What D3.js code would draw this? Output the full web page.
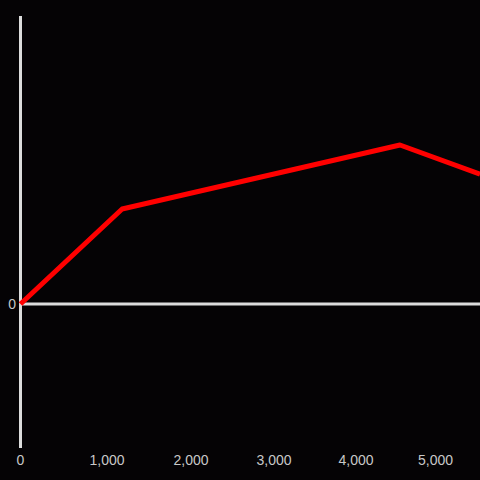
<!DOCTYPE html>
<html><head><meta charset="utf-8">
<script src="https://cdn.jsdelivr.net/npm/d3@7"></script>
<style>html,body{margin:0;padding:0;background:#050305;}svg{display:block;}</style>
</head><body>
<script>
const xTicks = [0, 1000, 2000, 3000, 4000, 5000];
const xTickLabels = ["0", "1,000", "2,000", "3,000", "4,000", "5,000"];
const yTicks = [0];
const yTickLabels = ["0"];
const seriesX = [0, 1180, 4553, 5560];
const seriesY = [0, 33, 55.2, 45.1];

const W = 480, H = 480;
const svg = d3.select("body").append("svg").attr("width", W).attr("height", H)
  .style("background", "#050305");

const x = d3.scaleLinear().domain(xTicks).range([20.5, 107, 191, 274, 356, 435.5]);
const y = d3.scaleLinear().domain([-50, 100]).range([448, 16]);

const axisColor = "#dcdcdc";
const textColor = "#c8c8c8";
const font = "'Liberation Sans', Arial, sans-serif";

// zero line
svg.append("line").attr("x1", x(0)).attr("x2", W).attr("y1", y(0)).attr("y2", y(0))
  .attr("stroke", axisColor).attr("stroke-width", 3);
// y axis line
svg.append("line").attr("x1", x(0)).attr("x2", x(0)).attr("y1", y(100)).attr("y2", y(-50))
  .attr("stroke", axisColor).attr("stroke-width", 3);

// x tick labels
svg.append("g").selectAll("text").data(xTicks).join("text")
  .attr("x", d => x(d)).attr("y", 465)
  .attr("text-anchor", "middle").attr("fill", textColor)
  .attr("font-family", font).attr("font-size", 14)
  .text((d, i) => xTickLabels[i]);

// y tick labels
svg.append("g").selectAll("text").data(yTicks).join("text")
  .attr("x", 16).attr("y", d => y(d)).attr("dy", "0.35em")
  .attr("text-anchor", "end").attr("fill", textColor)
  .attr("font-family", font).attr("font-size", 14)
  .text((d, i) => yTickLabels[i]);

const pts = seriesX.map((v, i) => [v, seriesY[i]]);
svg.append("path").datum(pts)
  .attr("fill", "none").attr("stroke", "#ff0000").attr("stroke-width", 5)
  .attr("stroke-linejoin", "round")
  .attr("d", d3.line().x(d => x(d[0])).y(d => y(d[1])));
</script>
</body></html>
